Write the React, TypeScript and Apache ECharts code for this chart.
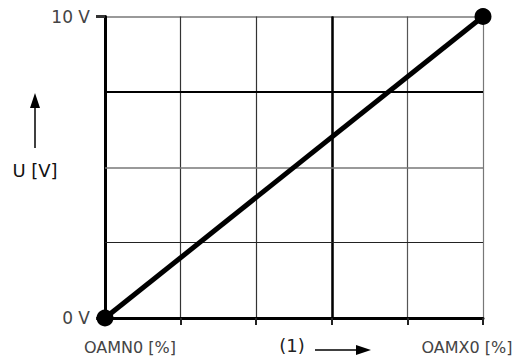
import React, { useEffect, useRef } from "react";
import * as echarts from "echarts";

const xValues = [0, 100];
const yValues = [0, 10];
const yTickLabels = ["0 V", "10 V"];
const yGridValues = [2.5, 5, 7.5];
const xStartLabel = "OAMN0 [%]";
const xEndLabel = "OAMX0 [%]";
const xAxisCaption = "(1)";
const yAxisCaption = "U [V]";

const FONT = "DejaVu Sans";

export default function App() {
  const ref = useRef<HTMLDivElement>(null);
  useEffect(() => {
    const chart = echarts.init(ref.current!, null, { renderer: "svg" });
    const data = xValues.map((x, i) => [x, yValues[i]]);
    const yGridStyles = [
      { color: "#222", width: 1.2 },
      { color: "#777", width: 1.5 },
      { color: "#000", width: 2 },
    ];
    chart.setOption({
      animation: false,
      grid: { left: 105, right: 35, top: 16.5, bottom: 41 },
      xAxis: {
        type: "value",
        min: 0,
        max: 100,
        interval: 20,
        axisLine: { show: true, onZero: false, lineStyle: { color: "#000", width: 3 } },
        axisTick: { show: true, inside: false, length: 7, lineStyle: { color: "#222", width: 2 } },
        axisLabel: { show: false },
        splitLine: {
          show: true,
          lineStyle: { color: ["#000", "#333", "#333", "#000", "#555", "#777"], width: 1.2 },
        },
      },
      yAxis: {
        type: "value",
        min: 0,
        max: 10,
        interval: 2.5,
        axisLine: { show: true, onZero: false, lineStyle: { color: "#000", width: 3 } },
        axisTick: {
          show: true,
          inside: false,
          length: 9,
          customValues: [0, 10],
          lineStyle: { color: "#333", width: 3 },
        },
        axisLabel: {
          show: true,
          customValues: [0, 10],
          margin: 15,
          color: "#444",
          fontFamily: FONT,
          fontSize: 17,
          formatter: (v: number) => (v === 0 ? yTickLabels[0] : v === 10 ? yTickLabels[1] : ""),
        },
        splitLine: {
          show: true,
          lineStyle: { color: ["#000", "#777"], width: 1.6 },
        },
      },
      series: [
        {
          type: "line",
          data,
          symbol: "circle",
          symbolSize: 17,
          showSymbol: true,
          itemStyle: { color: "#000" },
          lineStyle: { color: "#000", width: 5 },
          markLine: {
            silent: true,
            symbol: "none",
            label: { show: false },
            data: [
              { xAxis: 60, lineStyle: { color: "#000", width: 2.5, type: "solid" } },
              ...yGridValues.map((v, i) => ({
                yAxis: v,
                lineStyle: { ...yGridStyles[i], type: "solid" },
              })),
            ],
          },
          z: 5,
        },
      ],
      graphic: [
        {
          type: "text",
          x: 130,
          y: 347,
          style: {
            text: xStartLabel,
            fill: "#444",
            font: `16px '${FONT}'`,
            align: "center",
            verticalAlign: "middle",
          },
        },
        {
          type: "text",
          x: 467,
          y: 347,
          style: {
            text: xEndLabel,
            fill: "#444",
            font: `16px '${FONT}'`,
            align: "center",
            verticalAlign: "middle",
          },
        },
        {
          type: "text",
          x: 292,
          y: 345,
          style: {
            text: xAxisCaption,
            fill: "#222",
            font: `18px '${FONT}'`,
            align: "center",
            verticalAlign: "middle",
          },
        },
        { type: "line", shape: { x1: 315, y1: 350, x2: 358, y2: 350 }, style: { stroke: "#000", lineWidth: 1.5 } },
        { type: "polygon", shape: { points: [[371, 350], [356, 345], [356, 355]] }, style: { fill: "#000" } },
        {
          type: "text",
          x: 35,
          y: 170,
          style: {
            text: yAxisCaption,
            fill: "#111",
            font: `18px '${FONT}'`,
            align: "center",
            verticalAlign: "middle",
          },
        },
        { type: "line", shape: { x1: 35, y1: 148, x2: 35, y2: 108 }, style: { stroke: "#000", lineWidth: 1.5 } },
        { type: "polygon", shape: { points: [[35, 93], [30, 108], [40, 108]] }, style: { fill: "#000" } },
      ],
    });
    return () => chart.dispose();
  }, []);
  return (
    <div
      ref={ref}
      style={{ position: "fixed", left: 0, top: 0, width: 518, height: 359, background: "#fff" }}
    />
  );
}
